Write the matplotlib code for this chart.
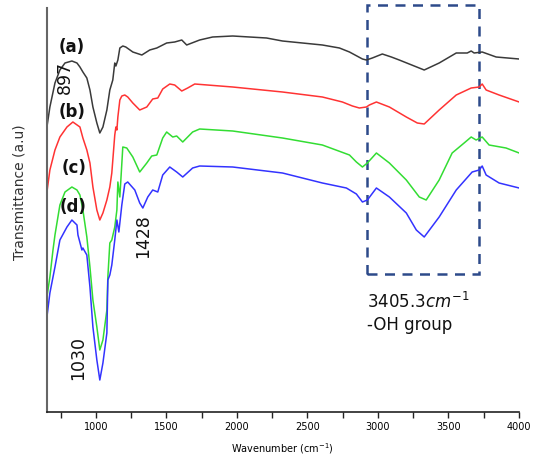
import matplotlib
matplotlib.use("Agg")
import matplotlib.pyplot as plt
from matplotlib.patches import Rectangle

# FTIR spectra (arbitrary transmittance units)
wn_a = [653, 674, 710, 745, 781, 830, 866, 887, 908, 936, 958, 979, 1007, 1028, 1050, 1078,
        1099, 1120, 1134, 1142, 1156, 1170, 1191, 1212, 1262, 1326, 1382, 1432, 1502, 1559,
        1609, 1644, 1736, 1828, 1970, 2210, 2323, 2606, 2727, 2798, 2890, 2918, 2960, 3031,
        3095, 3151, 3328, 3434, 3555, 3633, 3661, 3682, 3739, 3838, 4001]
tr_a = [285, 305, 329, 342, 349, 351, 349, 345, 340, 334, 322, 305, 289, 279, 285, 302,
        322, 332, 349, 346, 352, 364, 366, 365, 360, 357, 362, 364, 369, 370,
        372, 367, 372, 375, 376, 374, 371, 367, 364, 360, 353, 352, 354, 358,
        355, 352, 342, 349, 359, 359, 361, 359, 360, 355, 353]

wn_b = [653, 674, 710, 745, 795, 837, 887, 908, 936, 958, 979, 1007, 1028, 1050, 1078, 1099,
        1113, 1134, 1142, 1149, 1156, 1170, 1184, 1205, 1226, 1262, 1311, 1361, 1403, 1439,
        1474, 1524, 1559, 1609, 1651, 1701, 1970, 2323, 2606, 2748, 2819, 2868, 2918, 2939,
        2989, 3081, 3201, 3279, 3328, 3434, 3555, 3661, 3718, 3739, 3767, 3859, 4001]
tr_b = [220, 242, 262, 275, 285, 290, 285, 274, 262, 249, 225, 202, 192, 199, 212, 225,
        239, 277, 285, 282, 295, 312, 316, 317, 315, 309, 302, 305, 313, 314,
        323, 328, 327, 321, 324, 328, 325, 320, 315, 310, 306, 304, 305, 307,
        310, 305, 295, 289, 288, 302, 317, 324, 325, 328, 322, 317, 310]

wn_c = [653, 674, 696, 710, 745, 781, 830, 866, 887, 908, 936, 958, 979, 1007, 1028, 1050,
        1078, 1085, 1099, 1113, 1134, 1149, 1156, 1170, 1191, 1219, 1262, 1311, 1361, 1396,
        1432, 1474, 1502, 1545, 1573, 1616, 1686, 1736, 1970, 2323, 2606, 2798, 2847, 2890,
        2925, 2989, 3081, 3201, 3293, 3342, 3434, 3526, 3611, 3661, 3696, 3739, 3788, 3908, 4001]
tr_c = [115, 135, 162, 177, 207, 220, 225, 222, 217, 202, 175, 145, 112, 85, 62, 72,
        102, 135, 169, 172, 185, 202, 230, 215, 265, 264, 255, 240, 249, 256,
        257, 274, 280, 275, 276, 270, 280, 283, 281, 274, 267, 257, 250, 245,
        249, 259, 249, 232, 215, 212, 232, 259, 269, 275, 272, 275, 267, 264, 259]

wn_d = [653, 674, 710, 745, 795, 830, 866, 873, 901, 908, 936, 958, 979, 1007, 1028, 1050,
        1078, 1085, 1099, 1113, 1134, 1149, 1163, 1184, 1205, 1226, 1276, 1311, 1333, 1368,
        1403, 1439, 1474, 1524, 1573, 1616, 1686, 1736, 1970, 2323, 2606, 2776, 2847, 2890,
        2925, 2989, 3081, 3201, 3272, 3328, 3434, 3555, 3668, 3718, 3739, 3767, 3859, 4001]
tr_d = [95, 119, 145, 172, 185, 192, 187, 177, 162, 164, 157, 125, 85, 52, 32, 49,
        79, 132, 137, 147, 172, 192, 180, 207, 228, 230, 222, 209, 204, 215,
        222, 220, 237, 245, 240, 235, 244, 246, 245, 239, 229, 224, 218, 210,
        212, 224, 215, 199, 182, 175, 195, 222, 240, 242, 246, 237, 229, 224]

spectra = [(wn_a, tr_a, "#3a3a3a"), (wn_b, tr_b, "#ff3333"),
           (wn_c, tr_c, "#33dd33"), (wn_d, tr_d, "#3333ff")]

# curve labels (x, y) and peak annotations
curve_labels = ["(a)", "(b)", "(c)", "(d)"]
curve_label_pos = [(830, 365), (830, 300), (845, 244), (835, 205)]
peak_texts = ["897", "1428", "1030"]
peak_pos = [(780, 335), (1335, 176), (875, 54)]
oh_box = (2920, 3715, 138, 407)

fig = plt.figure(figsize=(5.37, 4.58), dpi=100)
ax = fig.add_axes([46.5 / 537, 46 / 458, (519 - 46.5) / 537, 404 / 458])

for wn, tr, col in spectra:
    ax.plot(wn, tr, color=col, lw=1.1)

ax.set_xlim(650, 4000)
ax.set_ylim(0, 404)

for lab, (x, y) in zip(curve_labels, curve_label_pos):
    ax.text(x, y, lab, fontsize=12, fontweight="bold", ha="center", va="center",
            color="#111111")
for lab, (x, y) in zip(peak_texts, peak_pos):
    ax.text(x, y, lab, fontsize=12.5, rotation=90, ha="center", va="center", color="#111111")

x0, x1, y0, y1 = oh_box
ax.add_patch(Rectangle((x0, y0), x1 - x0, y1 - y0, fill=False, ec="#2d4a8a", lw=1.8,
                       ls=(0, (4, 3)), clip_on=False))
ax.text(2920, 110, "3405.3$cm^{-1}$", fontsize=12, ha="left", va="center", color="#111111")
ax.text(2920, 87, "-OH group", fontsize=12, ha="left", va="center", color="#111111")

for s in ["top", "right"]:
    ax.spines[s].set_visible(False)
ax.spines["left"].set_color("#666666")
ax.spines["left"].set_linewidth(1.5)
ax.spines["bottom"].set_color("#222222")
ax.spines["bottom"].set_linewidth(1.2)

ax.set_yticks([])
ax.set_xticks(range(750, 4001, 250), minor=True)
ax.set_xticks(range(1000, 4001, 500))
ax.tick_params(axis="x", which="both", direction="out", length=4, width=1, labelsize=7,
               color="#222222")
ax.set_ylabel("Transmittance (a.u)", fontsize=10, color="#333333")
ax.yaxis.set_label_coords(-0.042, 0.545)
ax.set_xlabel("Wavenumber (cm$^{-1}$)", fontsize=7, labelpad=6)

fig.savefig("out.png", dpi=100)
